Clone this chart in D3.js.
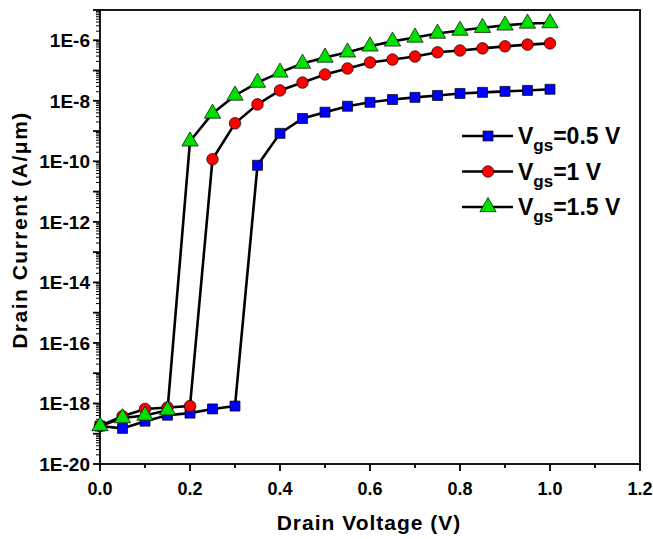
<!DOCTYPE html>
<html>
<head>
<meta charset="utf-8">
<script src="https://cdn.jsdelivr.net/npm/d3@7"></script>
<style>
  body { margin: 0; background: #fff; }
  svg { display: block; font-family: "Liberation Sans", Arial, sans-serif; font-weight: bold; }
</style>
</head>
<body>
<svg id="chart" width="653" height="539"></svg>
<script>
// drain voltage sweep (V)
const vds = [0, 0.05, 0.1, 0.15, 0.2, 0.25, 0.3, 0.35, 0.4, 0.45, 0.5, 0.55, 0.6, 0.65, 0.7, 0.75, 0.8, 0.85, 0.9, 0.95, 1.0]

// drain current (A/um) per gate voltage
const id05 = [1.8e-19, 1.5e-19, 2.6e-19, 4.1e-19, 4.8e-19, 6.6e-19, 8.2e-19, 7.4e-11, 8.4e-10, 2.6e-9, 4.2e-9, 6.6e-9, 8.9e-9, 1.1e-8, 1.3e-8, 1.5e-8, 1.75e-8, 1.9e-8, 2.05e-8, 2.2e-8, 2.4e-8]
const id10 = [1.8e-19, 3.8e-19, 6.6e-19, 7.4e-19, 8.2e-19, 1.17e-10, 1.8e-9, 7.6e-9, 2.2e-8, 4e-8, 7.4e-8, 1.17e-7, 1.85e-7, 2.3e-7, 2.9e-7, 4e-7, 4.6e-7, 5.4e-7, 6.3e-7, 7.2e-7, 7.9e-7]
const id15 = [1.8e-19, 3.3e-19, 4e-19, 6e-19, 4.6e-10, 3.8e-9, 1.5e-8, 4e-8, 8.7e-8, 1.7e-7, 2.7e-7, 4e-7, 6.3e-7, 9.2e-7, 1.24e-6, 1.67e-6, 2.1e-6, 2.6e-6, 3.1e-6, 3.6e-6, 3.7e-6]

const xTicks = [0, 0.2, 0.4, 0.6, 0.8, 1.0, 1.2]
const yTickLabels = ["1E-20", "1E-18", "1E-16", "1E-14", "1E-12", "1E-10", "1E-8", "1E-6"]

const series = [
  {name: "0.5 V", values: id05, shape: d3.symbolSquare, color: "#0000ff"},
  {name: "1 V", values: id10, shape: d3.symbolCircle, color: "#ff0000"},
  {name: "1.5 V", values: id15, shape: d3.symbolTriangle, color: "#00e000"}
]

const svg = d3.select("#chart")
const mLeft = 100, mRight = 640, mTop = 10, mBottom = 464

const x = d3.scaleLinear().domain([0, 1.2]).range([mLeft, mRight])
const y = d3.scaleLog().domain([1e-20, 1e-5]).range([mBottom, mTop])

function markerSize(shape) {
  return shape === d3.symbolTriangle ? 115 : shape === d3.symbolCircle ? 105 : 100
}

// x ticks
const xMinor = d3.range(0, 1.21, 0.1)
svg.append("g").selectAll("line").data(xMinor).enter().append("line")
  .attr("x1", d => x(d)).attr("x2", d => x(d))
  .attr("y1", mBottom).attr("y2", (d, i) => mBottom + (i % 2 === 0 ? 7 : 4))
  .attr("stroke", "#000").attr("stroke-width", 1.8)
svg.append("g").selectAll("text").data(xTicks).enter().append("text")
  .attr("x", d => x(d)).attr("y", 495)
  .attr("text-anchor", "middle").attr("font-size", 18)
  .text(d => d.toFixed(1))

// y ticks: decades + log minors
const decades = d3.range(-20, -4)
const yMinor = []
decades.forEach(e => {
  if (e < -5) for (let k = 2; k <= 9; k++) yMinor.push(k * Math.pow(10, e))
})
svg.append("g").selectAll("line").data(yMinor).enter().append("line")
  .attr("x1", mLeft).attr("x2", mLeft - 4)
  .attr("y1", d => y(d)).attr("y2", d => y(d))
  .attr("stroke", "#000").attr("stroke-width", 1)
svg.append("g").selectAll("line").data(decades).enter().append("line")
  .attr("x1", mLeft).attr("x2", mLeft - 7)
  .attr("y1", d => y(Math.pow(10, d))).attr("y2", d => y(Math.pow(10, d)))
  .attr("stroke", "#000").attr("stroke-width", 1.8)
svg.append("g").selectAll("text").data(yTickLabels).enter().append("text")
  .attr("x", mLeft - 10).attr("y", d => y(+d) + 7)
  .attr("text-anchor", "end").attr("font-size", 19)
  .text(d => d)

// frame
svg.append("rect")
  .attr("x", mLeft).attr("y", mTop)
  .attr("width", mRight - mLeft).attr("height", mBottom - mTop)
  .attr("fill", "none").attr("stroke", "#000").attr("stroke-width", 1.8)

// axis titles
svg.append("text")
  .attr("x", 369).attr("y", 530)
  .attr("text-anchor", "middle").attr("font-size", 21).attr("letter-spacing", 1)
  .text("Drain Voltage (V)")
svg.append("text")
  .attr("transform", "translate(27,230) rotate(-90)")
  .attr("text-anchor", "middle").attr("font-size", 21).attr("letter-spacing", 1.5)
  .text("Drain Current (A/\u03bcm)")

// curves
const line = d3.line().x((d, i) => x(vds[i])).y(d => y(d))
const plot = svg.append("g")
series.forEach(s => {
  plot.append("path").datum(s.values)
    .attr("d", line)
    .attr("fill", "none").attr("stroke", "#000").attr("stroke-width", 2.6)
})
series.forEach(s => {
  plot.append("g").selectAll("path").data(s.values).enter().append("path")
    .attr("d", d3.symbol().type(s.shape).size(markerSize(s.shape)))
    .attr("transform", (d, i) => "translate(" + x(vds[i]) + "," + y(d) + ")")
    .attr("fill", s.color).attr("stroke", "#000").attr("stroke-width", 0.7)
})

// legend
const legend = svg.append("g")
series.forEach((s, i) => {
  const ly = 136 + i * 35.5
  legend.append("line")
    .attr("x1", 462).attr("x2", 513).attr("y1", ly).attr("y2", ly)
    .attr("stroke", "#000").attr("stroke-width", 2.6)
  legend.append("path")
    .attr("d", d3.symbol().type(s.shape).size(markerSize(s.shape)))
    .attr("transform", "translate(488," + ly + ")")
    .attr("fill", s.color).attr("stroke", "#000").attr("stroke-width", 0.7)
  const t = legend.append("text")
    .attr("x", 518).attr("y", ly + 8).attr("font-size", 23)
  t.append("tspan").text("V")
  t.append("tspan").attr("font-size", 17).attr("dy", 7).text("gs")
  t.append("tspan").attr("dy", -7).text("=" + s.name)
})
</script>
</body>
</html>
